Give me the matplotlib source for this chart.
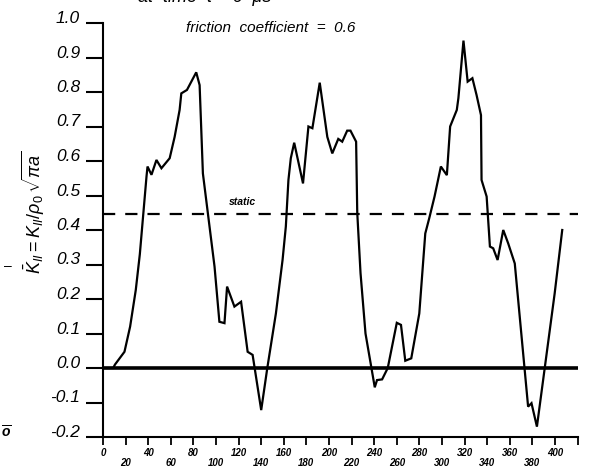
import matplotlib
matplotlib.use("Agg")
import matplotlib.pyplot as plt
from matplotlib.transforms import ScaledTranslation

# ---- data ----
x_pos = [0, 9, 10.6, 19, 24, 29, 32.6, 38.5, 39.4, 42.9, 47.3, 51.7, 59, 63.4,
         67.8, 69.3, 74.3, 82.5, 85.5, 88.4, 98.7, 103, 107.5, 109.8, 116.3,
         122.2, 128, 132.4, 140, 145.4, 153, 158.9, 161.8, 164.1, 166.2, 169.2,
         177, 181.8, 185.3, 191.8, 198.5, 202.9, 208.2, 211.7, 216.1, 219, 224,
         225, 227.9, 232.3, 240.5, 242.5, 247, 252, 260, 263.7, 267.5, 272.8,
         279.9, 285.2, 288.7, 293.4, 299, 304.3, 307.2, 313.1, 314.5, 319,
         322.7, 326.9, 330.6, 334.5, 335, 339.5, 342.4, 345.3, 349.2, 354.2,
         358.6, 364.4, 376.2, 379.2, 384, 399.7, 406.4]
k_values = [0, 0, 0.01, 0.047, 0.12, 0.226, 0.33, 0.555, 0.584, 0.56, 0.603,
            0.579, 0.608, 0.67, 0.748, 0.796, 0.806, 0.857, 0.82, 0.564, 0.294,
            0.134, 0.13, 0.236, 0.178, 0.192, 0.047, 0.038, -0.122, 0.0, 0.158,
            0.313, 0.41, 0.545, 0.608, 0.653, 0.535, 0.70, 0.695, 0.827, 0.67,
            0.622, 0.664, 0.656, 0.688, 0.688, 0.656, 0.45, 0.275, 0.10,
            -0.056, -0.035, -0.033, 0.0, 0.131, 0.125, 0.021, 0.028, 0.158,
            0.39, 0.434, 0.497, 0.584, 0.559, 0.70, 0.748, 0.782, 0.949, 0.83,
            0.84, 0.791, 0.733, 0.545, 0.497, 0.352, 0.347, 0.313, 0.40, 0.361,
            0.303, -0.112, -0.102, -0.17, 0.216, 0.40]
static_level = 0.445

y_ticks = [-0.2, -0.1, 0.0, 0.1, 0.2, 0.3, 0.4, 0.5, 0.6, 0.7, 0.8, 0.9, 1.0]
y_tick_labels = ["-0.2", "-0.1", "0.0", "0.1", "0.2", "0.3", "0.4", "0.5",
                 "0.6", "0.7", "0.8", "0.9", "1.0"]
x_ticks = list(range(0, 421, 20))
x_tick_labels = [str(v) for v in range(0, 401, 20)] + [""]

plt.rcParams['font.family'] = ['Liberation Sans', 'DejaVu Sans']
plt.rcParams['mathtext.fontset'] = 'custom'
plt.rcParams['mathtext.rm'] = 'Liberation Sans'
plt.rcParams['mathtext.it'] = 'Liberation Sans:italic'
plt.rcParams['mathtext.bf'] = 'Liberation Sans:bold:italic'

fig = plt.figure(figsize=(5.9, 4.66), dpi=100)
ax = fig.add_axes([103 / 590, 29 / 466, 474.6 / 590, 414 / 466])

ax.plot(x_pos, k_values, color='black', lw=1.6, solid_joinstyle='miter')
ax.axhline(0, color='black', lw=2.6, xmin=0, xmax=1)
ax.axhline(static_level, color='black', lw=1.6, dashes=(5.5, 4.5))

ax.set_xlim(0, 420)
ax.set_ylim(-0.2, 1.0)

for s in ['top', 'right']:
    ax.spines[s].set_visible(False)
for s in ['left', 'bottom']:
    ax.spines[s].set_linewidth(1.5)

ax.set_yticks(y_ticks)
ax.set_yticklabels(y_tick_labels, fontsize=12.5, style='italic')
ax.tick_params(axis='y', direction='out', length=12, width=1.5, pad=4.5)
off = ScaledTranslation(0, 0.06, fig.dpi_scale_trans)
for lab in ax.get_yticklabels():
    lab.set_transform(lab.get_transform() + off)

xl = []
for i, t in enumerate(x_tick_labels):
    xl.append(t if i % 2 == 0 else "\n" + t)
ax.set_xticks(x_ticks)
ax.set_xticklabels(xl, fontsize=7, style='italic', fontweight='bold',
                   linespacing=0.95)
ax.tick_params(axis='x', direction='out', length=6, width=1.3, pad=2)

ax.text(123, 0.48, "static", fontsize=7.5, style='italic', fontweight='bold',
        ha='center', va='center')

fig.text(186 / 590, 1 - 28 / 466, "friction  coefficient  =  0.6",
         fontsize=11, style='italic', ha='left', va='center')
fig.text(205 / 590, 1 - 2.5 / 466, "at  time  t = 6  \u03bcs", fontsize=13,
         style='italic', ha='center', va='baseline')

fig.text(33 / 590, 1 - 212 / 466,
         r"$\bar{K}_{II}=K_{II}/\rho_0\,\sqrt{\pi a}$",
         fontsize=13, rotation=90, ha='center', va='center')
fig.text(8 / 590, 1 - 266 / 466, "\u2013", fontsize=10, ha='center',
         va='center')
fig.text(6 / 590, 1 - 432 / 466, r"$\overline{\mathbf{o}}$", fontsize=10,
         ha='center', va='center')

fig.savefig("out.png", dpi=100)
